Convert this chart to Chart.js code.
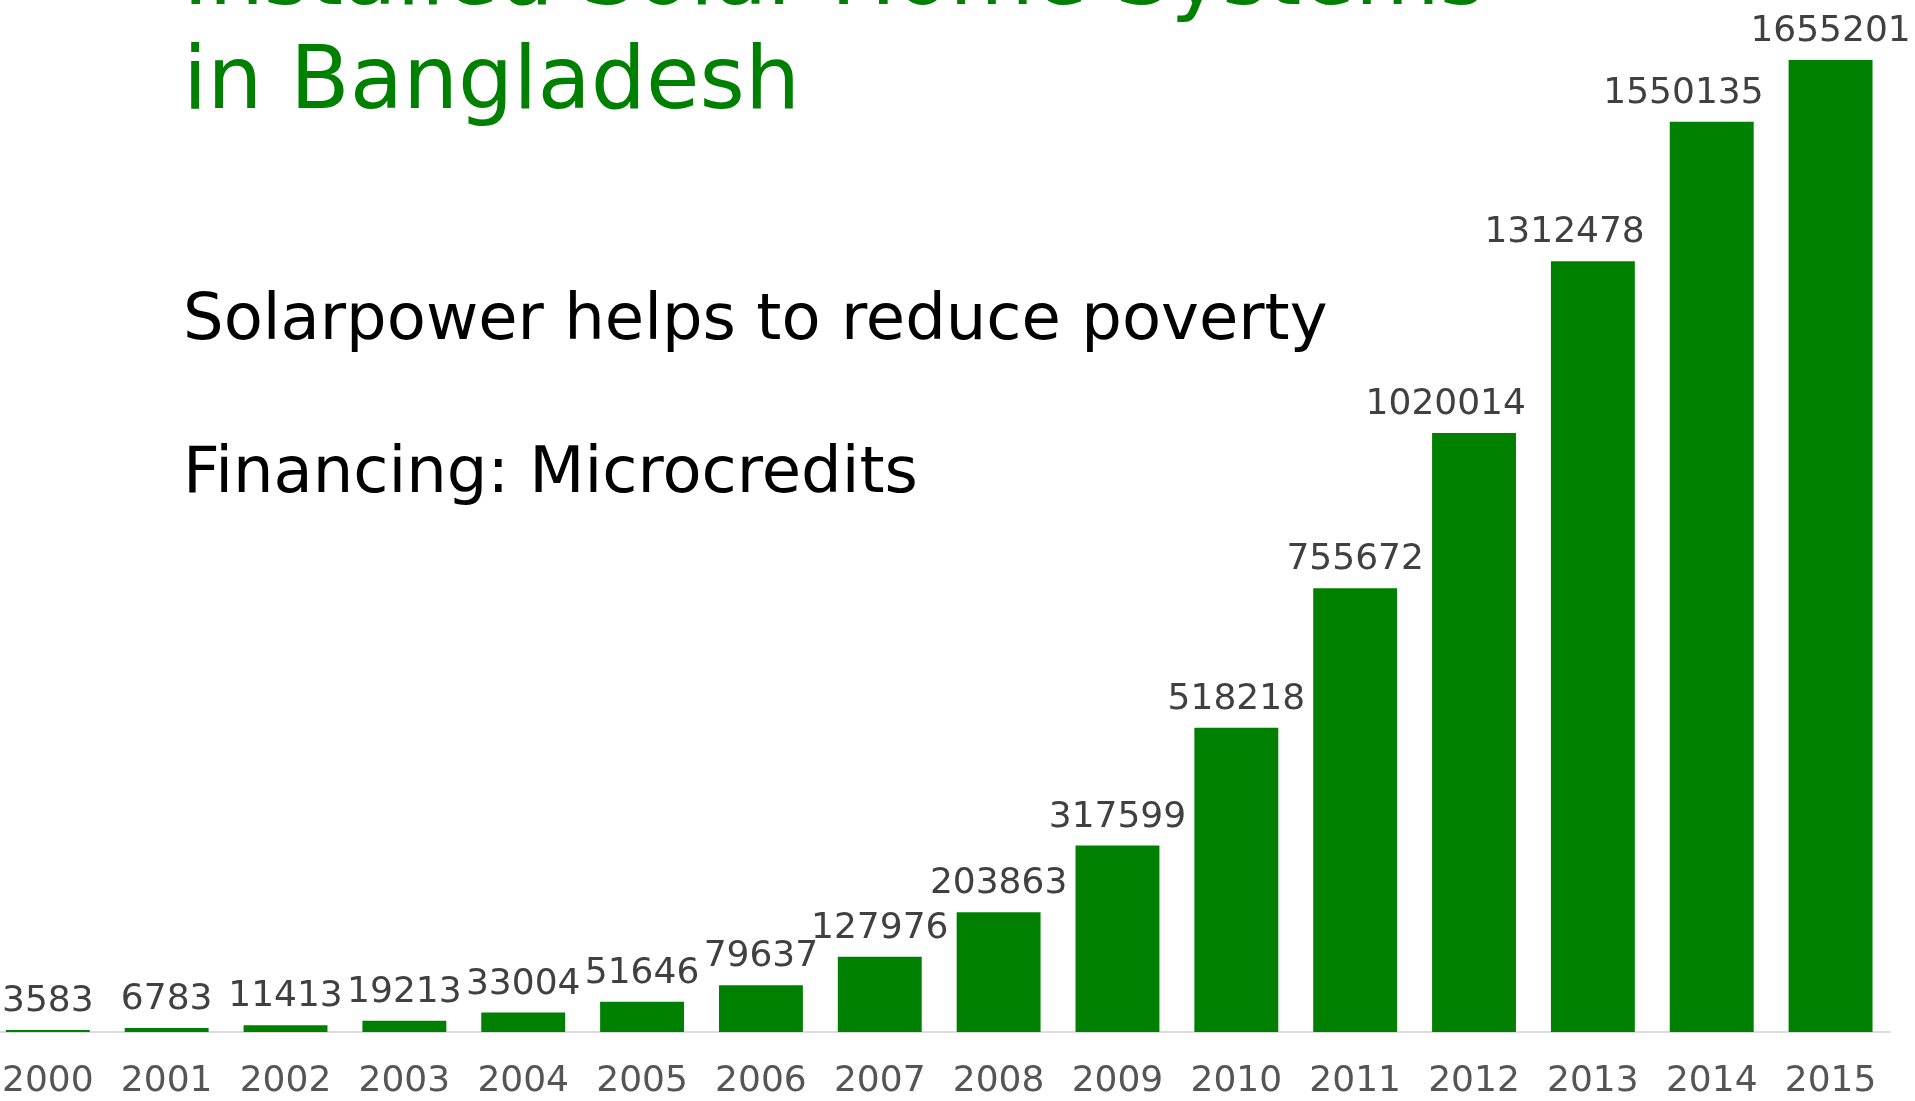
<!DOCTYPE html>
<html>
<head>
<meta charset="utf-8">
<title>Installed Solar Home Systems in Bangladesh</title>
<script src="https://cdn.jsdelivr.net/npm/chart.js@4/dist/chart.umd.min.js"></script>
<style>
    html, body { margin: 0; padding: 0; background: #fff; overflow: hidden; }
    body { width: 1915px; height: 1101px; position: relative; font-family: "DejaVu Sans", Verdana, sans-serif; }
    .chart-box { position: absolute; left: -26px; top: 0; width: 1941px; height: 1101px; }
    .title { position: absolute; left: 183px; top: -78px; font-size: 87px; line-height: 104px; color: #008000; white-space: nowrap; }
    .note { position: absolute; left: 183px; font-size: 64px; line-height: 64px; color: #000; white-space: nowrap; }
</style>
</head>
<body>
<div class="chart-box"><canvas id="shsChart"></canvas></div>
<div class="title" id="title"></div>
<div class="note" id="note1" style="top: 285px;"></div>
<div class="note" id="note2" style="top: 438px;"></div>

<script>
// data
const years = ['2000', '2001', '2002', '2003', '2004', '2005', '2006', '2007',
               '2008', '2009', '2010', '2011', '2012', '2013', '2014', '2015'];
const installed = [3583, 6783, 11413, 19213, 33004, 51646, 79637, 127976,
                   203863, 317599, 518218, 755672, 1020014, 1312478, 1550135, 1655201];
const titleLines = ['Installed Solar Home Systems', 'in Bangladesh'];
const notes = ['Solarpower helps to reduce poverty', 'Financing: Microcredits'];

const GREEN = '#008000';

document.getElementById('title').innerHTML = titleLines.join('<br>');
document.getElementById('note1').textContent = notes[0];
document.getElementById('note2').textContent = notes[1];

// value labels above the bars, nudged left when they would run into the next bar
const valueLabels = {
    id: 'valueLabels',
    afterDatasetsDraw(chart) {
        const ctx = chart.ctx;
        const bars = chart.getDatasetMeta(0).data;
        ctx.save();
        ctx.font = '36px "DejaVu Sans", Verdana, sans-serif';
        ctx.fillStyle = '#404040';
        ctx.textAlign = 'center';
        ctx.textBaseline = 'alphabetic';
        bars.forEach((bar, i) => {
            const txt = String(installed[i]);
            const w = ctx.measureText(txt).width;
            let x = bar.x;
            const next = bars[i + 1];
            if (next) {
                const nextLeft = next.x - next.width / 2;
                if (x + w / 2 > nextLeft) x = nextLeft - 25 - w / 2;
            }
            ctx.fillText(txt, x, bar.y - 19);
        });
        ctx.restore();
    }
};

new Chart(document.getElementById('shsChart').getContext('2d'), {
    type: 'bar',
    data: {
        labels: years,
        datasets: [{
            data: installed,
            backgroundColor: GREEN,
            borderWidth: 0,
            barPercentage: 0.706,
            categoryPercentage: 1
        }]
    },
    options: {
        responsive: true,
        maintainAspectRatio: false,
        animation: false,
        layout: { padding: { left: 0, right: 25, top: 0, bottom: 0 } },
        plugins: { legend: { display: false }, tooltip: { enabled: false }, title: { display: false } },
        scales: {
            x: {
                grid: { display: true, drawOnChartArea: false, drawTicks: false, color: 'rgba(0,0,0,0)' },
                border: { display: true, color: '#dddddd', width: 2 },
                ticks: { color: '#555555', padding: 28, font: { family: '"DejaVu Sans", Verdana, sans-serif', size: 36 } },
                afterFit: (s) => { s.height = 69; }
            },
            y: {
                display: false,
                min: 0,
                max: 1757500
            }
        }
    },
    plugins: [valueLabels]
});
</script>
</body>
</html>
